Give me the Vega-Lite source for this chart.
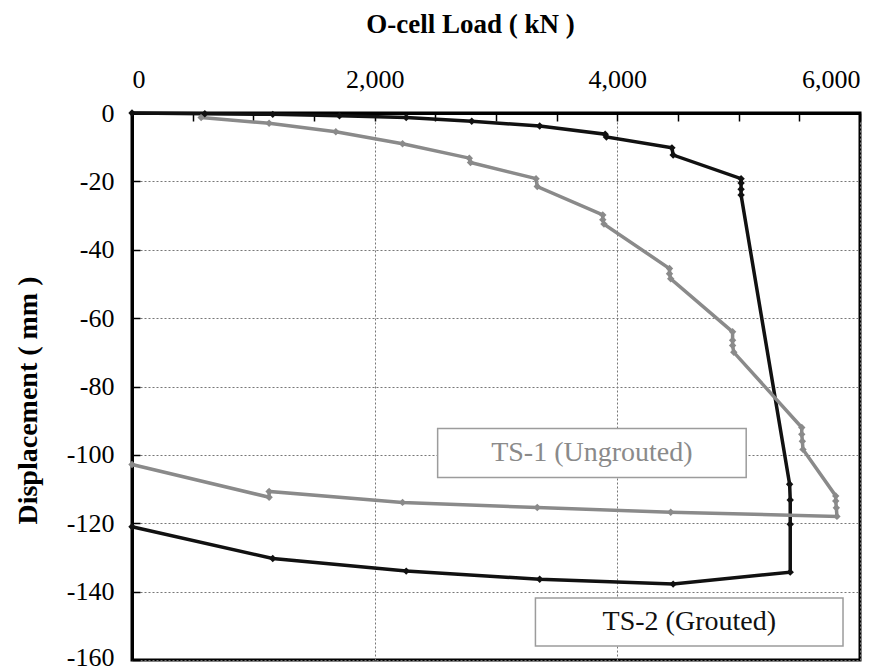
{
  "$schema": "https://vega.github.io/schema/vega-lite/v6.json",
  "width": 728,
  "height": 547,
  "autosize": "none",
  "padding": {"left": 132, "top": 113, "right": 36, "bottom": 11},
  "background": "white",
  "config": {
    "view": {"stroke": "black", "strokeWidth": 3},
    "font": "Liberation Serif",
    "axis": {"labelFont": "Liberation Serif", "titleFont": "Liberation Serif"},
    "text": {"font": "Liberation Serif"}
  },
  "datasets": {
    "curves": [
      {"series": "TS-2 (Grouted)", "step": 0, "load": 0, "disp": 0},
      {"series": "TS-2 (Grouted)", "step": 1, "load": 600, "disp": -0.2},
      {"series": "TS-2 (Grouted)", "step": 2, "load": 1160, "disp": -0.4},
      {"series": "TS-2 (Grouted)", "step": 3, "load": 1710, "disp": -0.8},
      {"series": "TS-2 (Grouted)", "step": 4, "load": 2260, "disp": -1.3},
      {"series": "TS-2 (Grouted)", "step": 5, "load": 2800, "disp": -2.4},
      {"series": "TS-2 (Grouted)", "step": 6, "load": 3360, "disp": -3.8},
      {"series": "TS-2 (Grouted)", "step": 7, "load": 3900, "disp": -6.2},
      {"series": "TS-2 (Grouted)", "step": 8, "load": 3910, "disp": -7.0},
      {"series": "TS-2 (Grouted)", "step": 9, "load": 4450, "disp": -10.2},
      {"series": "TS-2 (Grouted)", "step": 10, "load": 4460, "disp": -12.3},
      {"series": "TS-2 (Grouted)", "step": 11, "load": 5020, "disp": -19.2},
      {"series": "TS-2 (Grouted)", "step": 12, "load": 5020, "disp": -20.5},
      {"series": "TS-2 (Grouted)", "step": 13, "load": 5020, "disp": -22.3},
      {"series": "TS-2 (Grouted)", "step": 14, "load": 5020, "disp": -24},
      {"series": "TS-2 (Grouted)", "step": 15, "load": 5420, "disp": -108.6},
      {"series": "TS-2 (Grouted)", "step": 16, "load": 5425, "disp": -113.2},
      {"series": "TS-2 (Grouted)", "step": 17, "load": 5425, "disp": -120.3},
      {"series": "TS-2 (Grouted)", "step": 18, "load": 5425, "disp": -134.3},
      {"series": "TS-2 (Grouted)", "step": 19, "load": 4460, "disp": -137.8},
      {"series": "TS-2 (Grouted)", "step": 20, "load": 3360, "disp": -136.4},
      {"series": "TS-2 (Grouted)", "step": 21, "load": 2260, "disp": -134},
      {"series": "TS-2 (Grouted)", "step": 22, "load": 1160, "disp": -130.3},
      {"series": "TS-2 (Grouted)", "step": 23, "load": 0, "disp": -121},
      {"series": "TS-1 (Ungrouted)", "step": 0, "load": 570, "disp": -1.3},
      {"series": "TS-1 (Ungrouted)", "step": 1, "load": 1130, "disp": -3},
      {"series": "TS-1 (Ungrouted)", "step": 2, "load": 1680, "disp": -5.5},
      {"series": "TS-1 (Ungrouted)", "step": 3, "load": 2230, "disp": -9},
      {"series": "TS-1 (Ungrouted)", "step": 4, "load": 2780, "disp": -13.2},
      {"series": "TS-1 (Ungrouted)", "step": 5, "load": 2790, "disp": -14.5},
      {"series": "TS-1 (Ungrouted)", "step": 6, "load": 3330, "disp": -19.2},
      {"series": "TS-1 (Ungrouted)", "step": 7, "load": 3340, "disp": -21.5},
      {"series": "TS-1 (Ungrouted)", "step": 8, "load": 3880, "disp": -29.8},
      {"series": "TS-1 (Ungrouted)", "step": 9, "load": 3880, "disp": -31.2},
      {"series": "TS-1 (Ungrouted)", "step": 10, "load": 3890, "disp": -32.5},
      {"series": "TS-1 (Ungrouted)", "step": 11, "load": 4430, "disp": -45.5},
      {"series": "TS-1 (Ungrouted)", "step": 12, "load": 4430, "disp": -47},
      {"series": "TS-1 (Ungrouted)", "step": 13, "load": 4440, "disp": -48.5},
      {"series": "TS-1 (Ungrouted)", "step": 14, "load": 4950, "disp": -64},
      {"series": "TS-1 (Ungrouted)", "step": 15, "load": 4950, "disp": -66.5},
      {"series": "TS-1 (Ungrouted)", "step": 16, "load": 4950, "disp": -68},
      {"series": "TS-1 (Ungrouted)", "step": 17, "load": 4960, "disp": -70},
      {"series": "TS-1 (Ungrouted)", "step": 18, "load": 5520, "disp": -92},
      {"series": "TS-1 (Ungrouted)", "step": 19, "load": 5520, "disp": -94},
      {"series": "TS-1 (Ungrouted)", "step": 20, "load": 5525, "disp": -96},
      {"series": "TS-1 (Ungrouted)", "step": 21, "load": 5530, "disp": -98.4},
      {"series": "TS-1 (Ungrouted)", "step": 22, "load": 5800, "disp": -112},
      {"series": "TS-1 (Ungrouted)", "step": 23, "load": 5800, "disp": -113.5},
      {"series": "TS-1 (Ungrouted)", "step": 24, "load": 5805, "disp": -115.5},
      {"series": "TS-1 (Ungrouted)", "step": 25, "load": 5810, "disp": -118},
      {"series": "TS-1 (Ungrouted)", "step": 26, "load": 4440, "disp": -116.8},
      {"series": "TS-1 (Ungrouted)", "step": 27, "load": 3340, "disp": -115.4},
      {"series": "TS-1 (Ungrouted)", "step": 28, "load": 2230, "disp": -113.9},
      {"series": "TS-1 (Ungrouted)", "step": 29, "load": 1130, "disp": -110.7},
      {"series": "TS-1 (Ungrouted)", "step": 30, "load": 1130, "disp": -112.4},
      {"series": "TS-1 (Ungrouted)", "step": 31, "load": 0, "disp": -102.8}
    ],
    "notes": [
      {"series": "TS-1 (Ungrouted)", "x1": 2519, "x2": 5062, "y1": -92.3, "y2": -106.6, "xc": 3790, "yc": -99.4},
      {"series": "TS-2 (Grouted)", "x1": 3325, "x2": 5860, "y1": -141.9, "y2": -155.9, "xc": 4593, "yc": -148.9}
    ]
  },
  "layer": [
    {
      "data": {"name": "notes"},
      "mark": {"type": "rect", "fill": "white", "stroke": "#9c9c9c", "strokeWidth": 1.5},
      "encoding": {
        "x": {"field": "x1", "type": "quantitative", "scale": {"domain": [0, 6000], "nice": false},
          "axis": {
            "orient": "top",
            "title": "O-cell Load ( kN )",
            "titleFont": "Liberation Serif",
            "titleFontSize": 27,
            "titleFontWeight": "bold",
            "titleColor": "black",
            "titlePadding": 28,
            "titleX": 338,
            "values": [0, 500, 1000, 1500, 2000, 2500, 3000, 3500, 4000, 4500, 5000, 5500, 6000],
            "labelExpr": "datum.value % 2000 === 0 ? format(datum.value, ',') : ''",
            "labelFont": "Liberation Serif",
            "labelFontSize": 26,
            "labelColor": "black",
            "labelPadding": 29,
            "tickSize": -8,
            "tickColor": "black",
            "tickWidth": 1.5,
            "domainColor": "black",
            "domainWidth": 3,
            "grid": true,
            "gridColor": "#777777",
            "gridDash": [2, 2],
            "gridWidth": 1,
            "gridOpacity": {"condition": {"test": "datum.value % 2000 === 0", "value": 1}, "value": 0}
          }},
        "x2": {"field": "x2"},
        "y": {"field": "y1", "type": "quantitative", "scale": {"domain": [-160, 0], "nice": false},
          "axis": {
            "title": "Displacement ( mm )",
            "titleFont": "Liberation Serif",
            "titleFontSize": 28,
            "titleFontWeight": "bold",
            "titleColor": "black",
            "titlePadding": 24,
            "titleY": 287,
            "values": [-160, -155, -150, -145, -140, -135, -130, -125, -120, -115, -110, -105, -100, -95, -90, -85, -80, -75, -70, -65, -60, -55, -50, -45, -40, -35, -30, -25, -20, -15, -10, -5, 0],
            "labelExpr": "datum.value % 20 === 0 ? '' + datum.value : ''",
            "labelFont": "Liberation Serif",
            "labelFontSize": 26,
            "labelColor": "black",
            "labelPadding": 26,
            "labelOffset": {"condition": {"test": "datum.value === -160", "value": -3}, "value": 0},
            "tickSize": -8,
            "tickColor": "black",
            "tickWidth": 1.5,
            "domainColor": "black",
            "domainWidth": 3,
            "grid": true,
            "gridColor": "#777777",
            "gridDash": [2, 2],
            "gridWidth": 1,
            "gridOpacity": {"condition": {"test": "datum.value % 20 === 0", "value": 1}, "value": 0}
          }},
        "y2": {"field": "y2"}
      }
    },
    {
      "data": {"name": "notes"},
      "mark": {"type": "text", "fontSize": 28, "font": "Liberation Serif", "baseline": "middle", "align": "center"},
      "encoding": {
        "x": {"field": "xc", "type": "quantitative"},
        "y": {"field": "yc", "type": "quantitative"},
        "text": {"field": "series"},
        "color": {"field": "series", "type": "nominal", "scale": {"domain": ["TS-1 (Ungrouted)", "TS-2 (Grouted)"], "range": ["#8a8a8a", "#111111"]}, "legend": null}
      }
    },
    {
      "data": {"name": "curves"},
      "mark": {"type": "line", "strokeWidth": 3.5, "point": {"shape": "diamond", "size": 55, "filled": true}},
      "encoding": {
        "x": {"field": "load", "type": "quantitative"},
        "y": {"field": "disp", "type": "quantitative"},
        "order": {"field": "step", "type": "quantitative"},
        "color": {"field": "series", "type": "nominal", "legend": null}
      }
    }
  ]
}
